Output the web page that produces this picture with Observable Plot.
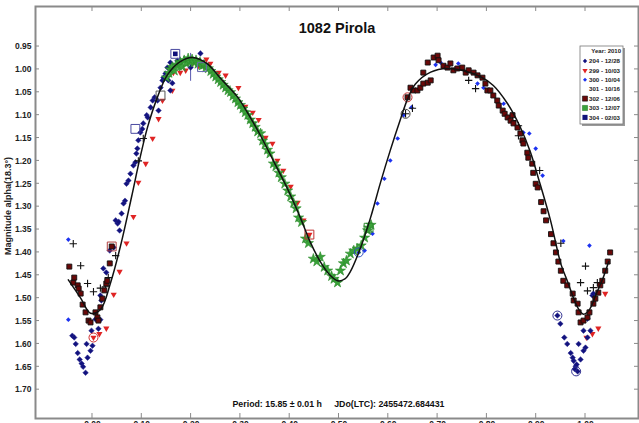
<!DOCTYPE html>
<html><head><meta charset="utf-8">
<script src="https://cdn.jsdelivr.net/npm/d3@7"></script>
<script src="https://cdn.jsdelivr.net/npm/@observablehq/plot@0.6"></script>
<style>
html,body{margin:0;padding:0;overflow:hidden;background:#fff;}
#chart{position:relative;width:639px;height:423px;}
svg{overflow:visible;}
</style></head>
<body><div id="chart"></div>
<script>
const xTicks = [0,0.1,0.2,0.3,0.4,0.5,0.6,0.7,0.8,0.9,1.0];
const yTicks = [0.95,1.00,1.05,1.10,1.15,1.20,1.25,1.30,1.35,1.40,1.45,1.50,1.55,1.60,1.65,1.70];
const seriesNames = ["204 - 12/28","299 - 10/03","300 - 10/04","301 - 10/16","302 - 12/06","303 - 12/07","304 - 02/03"];

const s204 = [[-0.041,1.582],[-0.037,1.586],[-0.034,1.600],[-0.030,1.620],[-0.026,1.634],[-0.022,1.643],[-0.019,1.650],[-0.014,1.663],[-0.012,1.600],[-0.010,1.630],[-0.004,1.615],[0.000,1.604],[-0.002,1.571],[0.006,1.546],[0.012,1.567],[0.016,1.547],[0.018,1.505],[0.016,1.494],[0.022,1.435],[0.028,1.444],[0.035,1.396],[0.043,1.389],[0.047,1.330],[0.051,1.337],[0.053,1.333],[0.055,1.352],[0.059,1.315],[0.063,1.293],[0.066,1.287],[0.069,1.250],[0.073,1.243],[0.077,1.228],[0.083,1.210],[0.087,1.203],[0.089,1.184],[0.091,1.173],[0.093,1.155],[0.097,1.138],[0.101,1.130],[0.103,1.118],[0.110,1.100],[0.112,1.105],[0.118,1.083],[0.122,1.068],[0.126,1.061],[0.132,1.068],[0.134,1.090],[0.138,1.040],[0.142,1.024],[0.144,1.018],[0.148,1.009],[0.152,0.996],[0.158,0.985],[0.154,1.024],[0.162,1.030],[0.158,1.046],[0.172,0.981],[0.199,0.996],[0.219,0.965],
[0.943,1.538],[0.949,1.556],[0.957,1.586],[0.963,1.600],[0.970,1.620],[0.974,1.630],[0.976,1.637],[0.980,1.649],[0.984,1.660],[0.986,1.600],[0.990,1.634],[0.996,1.615],[1.000,1.608],[0.996,1.571],[1.004,1.586],[1.010,1.571],[1.004,1.545],[0.978,1.655],[0.982,1.645],[1.014,1.494],[1.016,1.490]];
const s299 = [[0.002,1.586],[0.014,1.578],[0.028,1.566],[0.043,1.492],[0.055,1.442],[0.069,1.380],[0.083,1.322],[0.093,1.247],[0.108,1.206],[0.122,1.151],[0.134,1.108],[0.142,1.068],[0.162,1.046],[0.164,1.007],[0.178,1.007],[0.189,1.002],[0.203,0.987],[0.215,0.992],[0.231,0.978],[0.239,0.987],[0.256,1.007],[0.270,1.013],[0.296,1.040],[0.310,1.081],[0.325,1.094],[0.337,1.110],[0.351,1.149],[0.365,1.162],[0.375,1.199],[0.387,1.221],[0.402,1.256],[0.416,1.291],[0.428,1.330],[0.440,1.361],[1.002,1.586],[1.014,1.578],[1.026,1.566],[1.040,1.490]];
const s300 = [[-0.049,1.372],[-0.049,1.547],[0.540,1.400],[0.552,1.396],[0.568,1.359],[0.578,1.293],[0.592,1.239],[0.604,1.199],[0.619,1.151],[0.631,1.100],[0.647,1.083],[0.696,0.990],[0.706,0.985],[0.742,0.987],[0.781,1.031],[0.793,1.040],[0.834,1.075],[0.874,1.138],[0.886,1.140],[0.899,1.173],[0.913,1.232],[0.955,1.375],[1.008,1.385]];
const s301 = [[-0.039,1.381],[-0.024,1.429],[-0.010,1.468],[0.002,1.486],[0.016,1.478],[0.026,1.475],[0.032,1.455],[0.047,1.407],[0.093,1.200],[0.103,1.151],[0.635,1.097],[0.649,1.085],[0.763,1.024],[0.777,1.042],[0.852,1.112],[0.864,1.123],[0.864,1.145],[0.907,1.221],[0.950,1.380],[0.990,1.466],[1.004,1.484],[1.016,1.477],[1.024,1.466],[1.000,1.430]];
const s302 = [[-0.047,1.431],[-0.039,1.466],[-0.037,1.455],[-0.030,1.472],[-0.028,1.479],[-0.024,1.490],[-0.020,1.514],[-0.014,1.531],[-0.008,1.549],[-0.004,1.553],[0.006,1.531],[0.010,1.542],[0.012,1.549],[0.016,1.520],[0.020,1.501],[0.024,1.483],[0.028,1.468],[0.030,1.462],[0.035,1.424],[0.039,1.387],
[0.639,1.061],[0.645,1.040],[0.651,1.046],[0.659,1.046],[0.665,1.040],[0.671,1.031],[0.680,1.029],[0.686,1.024],[0.671,1.007],[0.680,0.985],[0.692,0.974],[0.700,0.970],[0.702,0.980],[0.712,0.992],[0.720,0.996],[0.726,0.987],[0.732,1.002],[0.740,0.998],[0.750,0.996],[0.757,1.007],[0.763,1.002],[0.773,1.007],[0.781,1.013],[0.791,1.018],[0.797,1.031],[0.801,1.046],[0.807,1.046],[0.813,1.057],[0.821,1.068],[0.824,1.079],[0.832,1.090],[0.836,1.097],[0.842,1.105],[0.848,1.112],[0.852,1.100],[0.854,1.118],[0.862,1.127],[0.868,1.140],[0.872,1.155],[0.874,1.162],[0.882,1.182],[0.884,1.193],[0.892,1.206],[0.894,1.226],[0.899,1.250],[0.903,1.258],[0.910,1.290],[0.915,1.310],[0.920,1.330],[0.930,1.360],[0.935,1.380],[0.940,1.400],[0.945,1.420],[0.950,1.440],
[0.955,1.462],[0.963,1.472],[0.974,1.490],[0.976,1.505],[0.984,1.512],[0.986,1.531],[0.990,1.553],[0.996,1.549],[1.004,1.542],[1.008,1.531],[1.016,1.512],[1.020,1.501],[1.026,1.488],[1.030,1.472],[1.034,1.462],[1.040,1.440],[1.045,1.420],[1.050,1.400]];
const s303 = [[0.150,1.018],[0.155,1.008],[0.158,1.000],[0.162,0.995],[0.166,1.003],[0.170,0.990],[0.174,0.992],[0.178,0.984],[0.182,0.994],[0.186,0.980],[0.190,0.986],[0.194,0.976],[0.198,0.984],[0.202,0.978],[0.206,0.985],[0.210,0.980],[0.214,0.988],[0.218,0.984],[0.222,0.992],[0.226,0.990],[0.230,0.996],[0.235,0.998],[0.240,1.004],[0.245,1.010],[0.250,1.016],[0.255,1.022],[0.260,1.028],[0.265,1.034],[0.270,1.040],[0.275,1.046],[0.280,1.050],[0.285,1.058],[0.290,1.064],[0.295,1.072],[0.300,1.078],[0.305,1.086],[0.310,1.094],[0.315,1.100],[0.320,1.110],[0.325,1.118],[0.330,1.126],[0.335,1.136],[0.341,1.140],[0.345,1.156],[0.350,1.164],[0.355,1.176],[0.360,1.184],[0.367,1.206],[0.372,1.212],[0.378,1.226],[0.383,1.236],[0.390,1.250],[0.396,1.265],[0.402,1.278],[0.408,1.292],[0.413,1.304],[0.418,1.324],[0.424,1.334],[0.432,1.370],[0.438,1.380],[0.448,1.414],[0.455,1.420],[0.462,1.410],[0.470,1.432],[0.477,1.440],[0.485,1.452],[0.490,1.458],[0.497,1.466],[0.503,1.440],[0.509,1.424],[0.515,1.418],[0.523,1.403],[0.530,1.396],[0.537,1.392],[0.545,1.385],[0.552,1.368],[0.558,1.352],[0.560,1.346],[0.565,1.340]];
const s304 = [[0.168,0.966]];

const fitCurve = [[-0.049,1.460],[-0.024,1.500],[-0.004,1.533],[0.016,1.525],[0.037,1.465],[0.057,1.385],[0.079,1.280],[0.095,1.200],[0.112,1.125],[0.132,1.060],[0.152,1.012],[0.178,0.983],[0.203,0.974],[0.233,0.988],[0.260,1.020],[0.294,1.060],[0.320,1.105],[0.341,1.145],[0.367,1.200],[0.396,1.262],[0.422,1.325],[0.442,1.378],[0.462,1.420],[0.482,1.450],[0.497,1.462],[0.512,1.458],[0.523,1.442],[0.544,1.389],[0.564,1.324],[0.584,1.248],[0.604,1.177],[0.625,1.108],[0.639,1.065],[0.655,1.032],[0.686,1.006],[0.720,0.998],[0.753,1.003],[0.787,1.016],[0.813,1.035],[0.842,1.075],[0.868,1.127],[0.888,1.180],[0.905,1.240],[0.929,1.330],[0.950,1.425],[0.963,1.462],[0.984,1.520],[0.996,1.535],[1.008,1.525],[1.022,1.490],[1.036,1.455],[1.047,1.420]];

const errBar = [[0.199,0.965,1.026]];
const boxMarks = [[0.168,0.966,"#4a4aa0"],[0.138,1.057,"#555"],[0.087,1.130,"#4a4aa0"],[0.039,1.387,"#b04040"],[0.440,1.361,"#c03030"],[0.560,1.346,"#2f8a2f"],[0.222,0.995,"#6a6ab0"]];
const circleMarks = [[0.002,1.586,"#d03030"],[0.943,1.538,"#303090"],[0.981,1.660,"#303090"],[0.639,1.061,"#c03030"],[0.635,1.097,"#444"],[0.540,1.400,"#3050c0"]];

(function () {
const X = d => d[0], Y = d => d[1];
const frameCol = "#8a8a8a";

const plot = Plot.plot({
  width: 639, height: 423,
  marginLeft: 35, marginRight: 1, marginTop: 6, marginBottom: 5,
  style: {background: "#fff", fontFamily: "Liberation Sans, Arial, sans-serif", overflow: "visible"},
  x: {domain: [-0.1156, 1.1075]},
  y: {domain: [0.8625, 1.763], reverse: true},
  marks: [
    Plot.axisY({ticks: yTicks, tickSize: 0, tickPadding: 4, tickFormat: d3.format(".2f"), fontSize: 8.5, fontWeight: "bold", fill: "#222", label: null}),
    Plot.axisX({ticks: xTicks, tickSize: 0, tickPadding: 2, tickFormat: d3.format(".2f"), fontSize: 8.5, fontWeight: "bold", fill: "#222", label: null}),
    Plot.frame({stroke: frameCol, strokeWidth: 2}),
    Plot.ruleX(errBar, {x: d => d[0], y1: d => d[1], y2: d => d[2], stroke: "#5a5ab0", strokeWidth: 1}),
    Plot.dot(s299, {x: X, y: Y, symbol: "triangle", rotate: 180, r: 2.3, fill: "#e02424", stroke: "none"}),
    Plot.dot(s204, {x: X, y: Y, symbol: "diamond2", r: 2.5, fill: "#12127e", stroke: "#2a2a90", strokeWidth: 0.5}),
    Plot.dot(s300, {x: X, y: Y, symbol: "diamond2", r: 2.1, fill: "#1c32f0", stroke: "none"}),
    Plot.dot(s301, {x: X, y: Y, symbol: "plus", r: 2.5, stroke: "#111", strokeWidth: 1.1}),
    Plot.dot(s302, {x: X, y: Y, symbol: "square", r: 2.8, fill: "#6a0808", stroke: "#111", strokeWidth: 0.9}),
    Plot.dot(s303, {x: X, y: Y, symbol: "star", r: 3.2, fill: "#3aa23a", stroke: "#2a8a2a", strokeWidth: 0.6}),
    Plot.dot(s304, {x: X, y: Y, symbol: "square", r: 2.6, fill: "#10107a"}),
    Plot.dot(boxMarks, {x: X, y: Y, symbol: "square", r: 5, fill: "none", stroke: d => d[2], strokeWidth: 1}),
    Plot.dot(circleMarks, {x: X, y: Y, r: 4.5, fill: "none", stroke: d => d[2], strokeWidth: 1}),
    Plot.line(fitCurve, {x: X, y: Y, curve: "catmull-rom", stroke: "#111", strokeWidth: 1.5}),
    Plot.text(["1082 Pirola"], {frameAnchor: "top", dy: 16, fontSize: 14.5, fontWeight: "bold", fill: "#111", lineAnchor: "top"}),
    Plot.text(["Period: 15.85 \u00b1 0.01 h     JDo(LTC): 2455472.684431"], {frameAnchor: "bottom-left", dx: 197, dy: -12, textAnchor: "start", lineAnchor: "bottom", fontSize: 8.8, fontWeight: "bold", fill: "#111"})
  ]
});
document.getElementById("chart").appendChild(plot);

const svg = d3.select(plot);
const sx = plot.scale("x"), sy = plot.scale("y");
const g = svg.append("g").attr("stroke", frameCol).attr("stroke-width", 1);
const fL = 35, fR = 638, fT = 6, fB = 418;
yTicks.forEach(v => {
  const yy = sy.apply(v);
  g.append("line").attr("x1", fL).attr("x2", fL + 4).attr("y1", yy).attr("y2", yy);
  g.append("line").attr("x1", fR - 4).attr("x2", fR).attr("y1", yy).attr("y2", yy);
});
xTicks.forEach(v => {
  const xx = sx.apply(v);
  g.append("line").attr("x1", xx).attr("x2", xx).attr("y1", fT).attr("y2", fT + 5);
  g.append("line").attr("x1", xx).attr("x2", xx).attr("y1", fB - 5).attr("y2", fB);
});
svg.append("text").attr("transform", "translate(9,206) rotate(-90)")
  .attr("text-anchor", "middle").attr("dominant-baseline", "middle")
  .attr("font-size", 9).attr("font-weight", "bold").attr("fill", "#222")
  .attr("font-family", "Liberation Sans, Arial, sans-serif")
  .text("Magnitude alpha(18.3\u00b0)");

const lg = svg.append("g").attr("font-family", "Liberation Sans Narrow, Arial Narrow, Liberation Sans, sans-serif").attr("text-anchor", "start");
const lx = 580, ly = 46, lw = 43, lh = 78;
lg.append("rect").attr("x", lx + 2).attr("y", ly + 2).attr("width", lw).attr("height", lh).attr("fill", "#9a9a9a");
lg.append("rect").attr("x", lx).attr("y", ly).attr("width", lw).attr("height", lh).attr("fill", "#fff").attr("stroke", "#777").attr("stroke-width", 0.8);
lg.append("text").attr("x", lx + lw - 2).attr("y", ly + 6.5).attr("text-anchor", "end").attr("font-size", 6).attr("font-weight", "bold").attr("fill", "#222").text("Year: 2010");
const legSym = [
  {t: d3.symbolDiamond2, s: 12, fill: "#12127e", stroke: "none", rot: 0},
  {t: d3.symbolTriangle, s: 12, fill: "#e02424", stroke: "none", rot: 180},
  {t: d3.symbolDiamond2, s: 10, fill: "#1c32f0", stroke: "none", rot: 0},
  {t: d3.symbolPlus, s: 16, fill: "#111", stroke: "none", rot: 0},
  {t: d3.symbolSquare, s: 26, fill: "#6a0808", stroke: "#111", rot: 0},
  {t: d3.symbolSquare, s: 26, fill: "#3aa23a", stroke: "#2a7a2a", rot: 0},
  {t: d3.symbolSquare, s: 26, fill: "#10107a", stroke: "none", rot: 0}
];
seriesNames.forEach((name, i) => {
  const yy = ly + 15 + i * 9.4;
  const s = legSym[i];
  lg.append("path").attr("d", d3.symbol(s.t, s.s)()).attr("transform", `translate(${lx + 5},${yy}) rotate(${s.rot})`)
    .attr("fill", s.fill).attr("stroke", s.stroke).attr("stroke-width", 0.6);
  lg.append("text").attr("x", lx + 9).attr("y", yy).attr("dy", "0.35em").attr("text-anchor", "start")
    .attr("font-size", 6).attr("font-weight", "bold").attr("fill", "#222")
    .attr("textLength", 31).attr("lengthAdjust", "spacingAndGlyphs").text(name);
});
})();
</script>
</body></html>
